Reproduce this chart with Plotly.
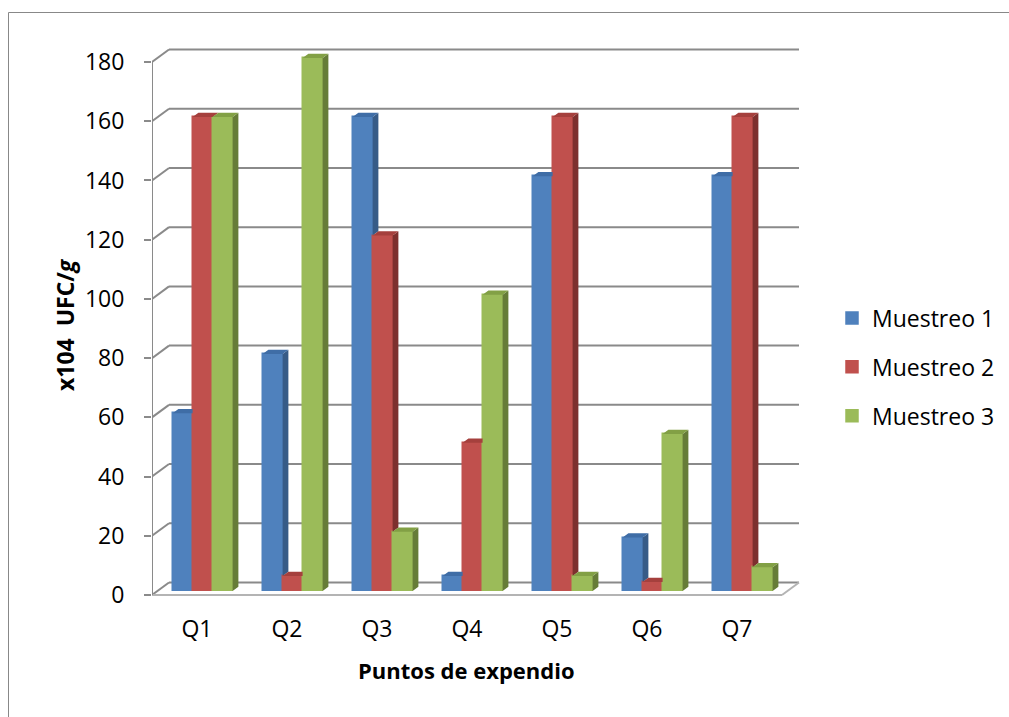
import plotly.graph_objects as go

# ---------------- data ----------------
categories = ["Q1", "Q2", "Q3", "Q4", "Q5", "Q6", "Q7"]
series_names = ["Muestreo 1", "Muestreo 2", "Muestreo 3"]
muestreo_1 = [60, 80, 160, 5, 140, 18, 140]
muestreo_2 = [160, 5, 120, 50, 160, 3, 160]
muestreo_3 = [160, 180, 20, 100, 5, 53, 8]
y_ticks = [0, 20, 40, 60, 80, 100, 120, 140, 160, 180]
y_title = "x104  UFC/<i>g</i>"
x_title = "Puntos de expendio"

series_values = [muestreo_1, muestreo_2, muestreo_3]
front_colors = ["#4F81BD", "#C0504D", "#9BBB59"]
top_colors = ["#3F6DA6", "#A5403D", "#82A045"]
side_colors = ["#375B87", "#7D302E", "#667C38"]

# ---------------- geometry ----------------
W, H = 1009, 717
L, R, T, B = 152, 199, 45, 117
PX_X = 90.0          # pixels per category
PX_Y = 2.961         # pixels per value unit
ZERO_PY = 595        # pixel row of value 0 on the front axis
x_min = -0.5
x_max = x_min + (W - L - R) / PX_X
y_min = -((H - B) - ZERO_PY) / PX_Y
y_max = (ZERO_PY - T) / PX_Y

DX = 17 / PX_X        # depth offset of back wall
DY = 12.5 / PX_Y
BW = 20 / PX_X        # bar width
F0, F1 = 0.33, 0.67   # bar depth span (fraction of wall depth)
n_cat = len(categories)

GRID = "#8A8A8A"
FLOOR = "#B4B4B4"
FONT = "Open Sans"

fig = go.Figure()

# bars (front faces)
for s, (name, vals) in enumerate(zip(series_names, series_values)):
    xs = [i - 1.5 * BW + s * BW + F0 * DX + BW / 2 for i in range(n_cat)]
    fig.add_trace(go.Bar(
        x=xs, y=vals, base=F0 * DY, width=BW, name=name,
        marker=dict(color=front_colors[s], line=dict(color=front_colors[s], width=1.5)),
        legendgroup=name, hoverinfo="skip",
    ))

# 3D side and top faces
sdx = (F1 - F0) * DX
sdy = (F1 - F0) * DY
for s, vals in enumerate(series_values):
    sx, sy, tx, ty = [], [], [], []
    for i, v in enumerate(vals):
        nxt = series_values[s + 1][i] if s + 1 < len(series_values) else 0
        xl = i - 1.5 * BW + s * BW + F0 * DX
        xr = xl + BW
        base = F0 * DY
        top = base + v
        if v > nxt:
            low = base + nxt
            sx += [xr, xr + sdx, xr + sdx, xr, xr, None]
            sy += [low, low + sdy, top + sdy, top, low, None]
        if nxt > v:
            tx += [xl, xl + sdx, xr, xr, xl, None]
            ty += [top, top + sdy, top + sdy, top, top, None]
        else:
            tx += [xl, xl + sdx, xr + sdx, xr, xl, None]
            ty += [top, top + sdy, top + sdy, top, top, None]
    fig.add_trace(go.Scatter(x=sx, y=sy, mode="lines", fill="toself",
                             fillcolor=side_colors[s], line=dict(width=0),
                             showlegend=False, hoverinfo="skip"))
    fig.add_trace(go.Scatter(x=tx, y=ty, mode="lines", fill="toself",
                             fillcolor=top_colors[s], line=dict(width=0),
                             showlegend=False, hoverinfo="skip"))

# walls / gridlines as shapes below traces
shapes = []
x_front_left = -0.5
x_front_right = n_cat - 0.5
for v in y_ticks:
    shapes.append(dict(type="line", xref="x", yref="y", layer="below",
                       x0=x_front_left + DX, x1=x_front_right + DX, y0=v + DY, y1=v + DY,
                       line=dict(color=GRID, width=2)))
    shapes.append(dict(type="line", xref="x", yref="y", layer="below",
                       x0=x_front_left, x1=x_front_left + DX, y0=v, y1=v + DY,
                       line=dict(color=GRID, width=2)))
# floor front edge and right edge
shapes.append(dict(type="line", xref="x", yref="y", layer="below",
                   x0=x_front_left, x1=x_front_right, y0=0, y1=0,
                   line=dict(color=FLOOR, width=2)))
shapes.append(dict(type="line", xref="x", yref="y", layer="below",
                   x0=x_front_right, x1=x_front_right + DX, y0=0, y1=DY,
                   line=dict(color=FLOOR, width=2)))
# front value axis line
shapes.append(dict(type="line", xref="x", yref="y", layer="below",
                   x0=x_front_left, x1=x_front_left, y0=0, y1=max(y_ticks),
                   line=dict(color=GRID, width=2)))

# outer chart border (top and left visible)
pw = W - L - R
ph = H - T - B
def xp(px):
    return (px - L) / pw
def yp(py):
    return ((H - B) - py) / ph
shapes.append(dict(type="line", xref="paper", yref="paper", layer="above",
                   x0=xp(8.5), x1=xp(W + 5), y0=yp(12.5), y1=yp(12.5),
                   line=dict(color="#888888", width=1)))
shapes.append(dict(type="line", xref="paper", yref="paper", layer="above",
                   x0=xp(8.5), x1=xp(8.5), y0=yp(12.5), y1=yp(H + 5),
                   line=dict(color="#888888", width=1)))

annotations = [
    dict(text=y_title, xref="paper", yref="paper", x=xp(65), y=yp(325),
         showarrow=False, textangle=-90, xanchor="center", yanchor="middle",
         font=dict(family=FONT, size=23, color="#000000", weight="bold")),
    dict(text=x_title, xref="paper", yref="paper", x=xp(466), y=yp(670),
         showarrow=False, xanchor="center", yanchor="middle",
         font=dict(family=FONT, size=22, color="#000000", weight="bold")),
]

fig.update_layout(
    width=W, height=H, autosize=False,
    margin=dict(l=L, r=R, t=T, b=B, pad=0),
    paper_bgcolor="white", plot_bgcolor="white",
    barmode="overlay", bargap=0,
    shapes=shapes, annotations=annotations,
    showlegend=True,
    legend=dict(xref="container", yref="container", x=832 / W, y=1 - 367 / H,
                xanchor="left", yanchor="middle",
                font=dict(family=FONT, size=23, color="#000000"),
                tracegroupgap=16, bgcolor="rgba(0,0,0,0)", itemclick=False,
                itemdoubleclick=False),
    font=dict(family=FONT, color="#000000"),
    hovermode=False,
)
fig.update_xaxes(range=[x_min, x_max], tickvals=list(range(n_cat)), ticktext=categories,
                 showgrid=False, zeroline=False, showline=False, ticks="",
                 ticklabelstandoff=13, tickfont=dict(family=FONT, size=23, color="#000000"),
                 automargin=False, fixedrange=True)
fig.update_yaxes(range=[y_min, y_max], tickvals=y_ticks, showgrid=False, zeroline=False,
                 showline=False, ticks="outside", ticklen=7, tickwidth=2, tickcolor=GRID,
                 ticklabelstandoff=15, tickfont=dict(family=FONT, size=23, color="#000000"),
                 automargin=False, fixedrange=True)

fig.write_html("out.html", config={"displayModeBar": False})
